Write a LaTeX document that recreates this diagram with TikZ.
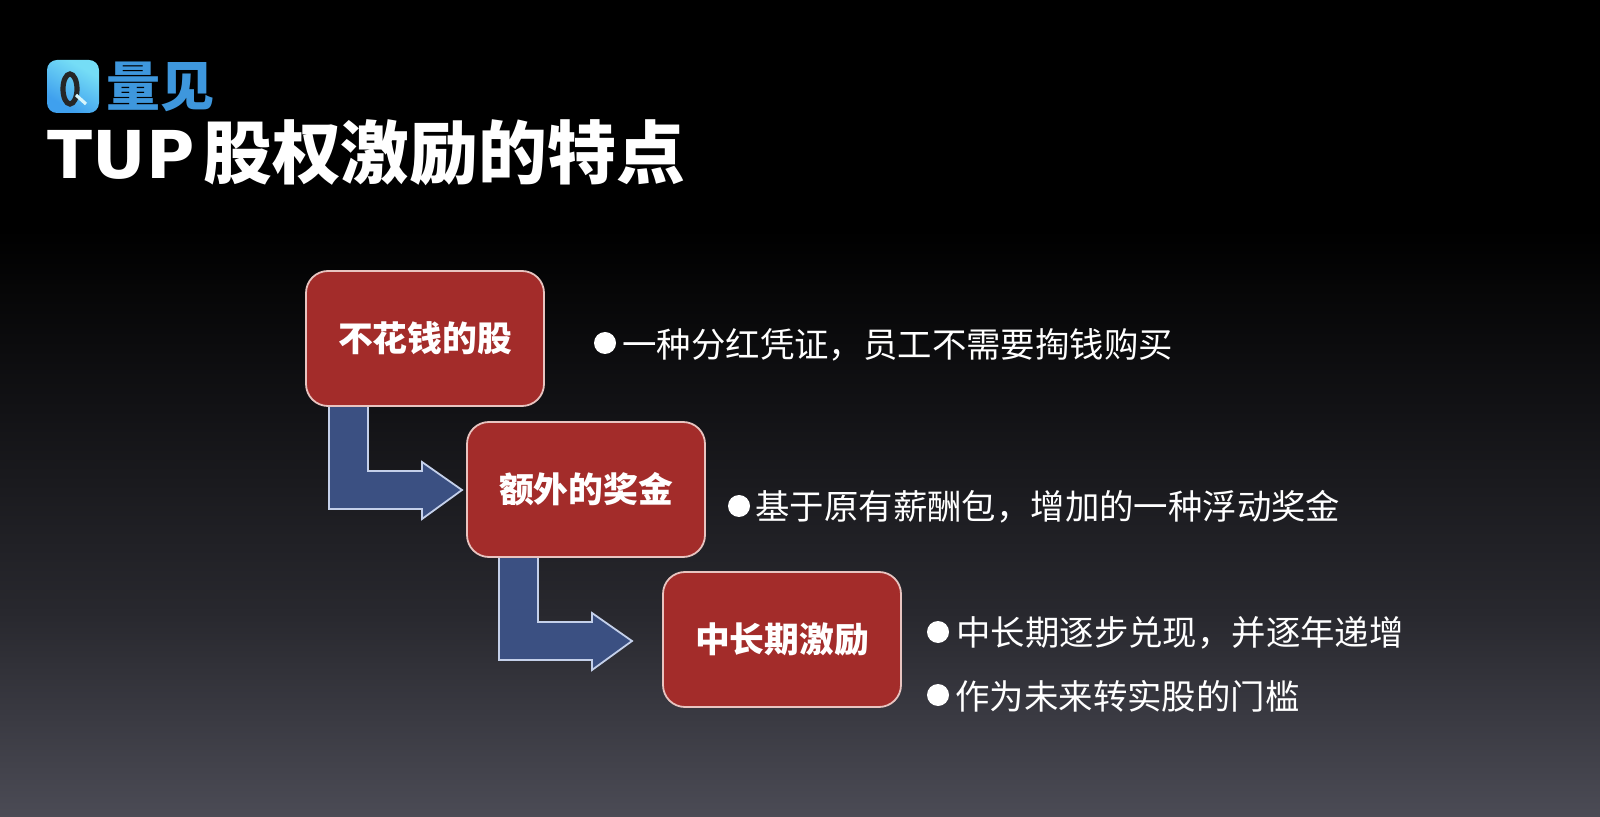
\documentclass[tikz,border=0pt]{standalone}
\usepackage{fontspec}
\setmainfont{Noto Sans CJK SC}
\newfontfamily\latbold{DejaVu Sans}
\definecolor{boxred}{HTML}{A32C2A}
\definecolor{boxedge}{HTML}{E8C4C0}
\definecolor{arrowblue}{HTML}{3B5082}
\definecolor{arrowedge}{HTML}{C4D0EA}
\definecolor{logoblue}{HTML}{3E97DD}
\definecolor{bga}{HTML}{000000}
\definecolor{bgb}{HTML}{121215}
\definecolor{bgc}{HTML}{28282E}
\definecolor{bgd}{HTML}{4B4B55}
\definecolor{la}{HTML}{3FA0EE}
\definecolor{lb}{HTML}{75DDF6}
\pgfdeclareverticalshading{bgshade}{100bp}{color(0bp)=(bgd); color(25bp)=(bgd); color(37.5bp)=(bgc); color(50bp)=(bgb); color(61bp)=(bga); color(100bp)=(bga)}
\pgfdeclareverticalshading{logoshade}{100bp}{color(0bp)=(la); color(30bp)=(la); color(70bp)=(lb); color(100bp)=(lb)}
\tikzset{
  redbox/.style={draw=boxedge,line width=0.9pt,fill=boxred,rounded corners=11pt,minimum width=119pt,minimum height=67.5pt,inner sep=0pt,text=white,font=\fontsize{17.4}{20}\selectfont\bfseries},
  bulletdot/.style={circle,fill=white,inner sep=0pt,minimum size=11pt},
  itemtext/.style={anchor=west,inner sep=0pt,text=white,font=\fontsize{17.2}{20}\selectfont},
  bentarrow/.style={draw=arrowedge,line width=0.9pt,fill=arrowblue,line join=miter},
}
\begin{document}
\begin{tikzpicture}[x=0.5pt,y=-0.5pt]
\useasboundingbox (0,0) rectangle (1600,817);
\shade[shading=bgshade] (0,0) rectangle (1600,817);
% logo
\shade[shading=logoshade,shading angle=-30,rounded corners=5pt] (47,60) rectangle (99,113);
\draw[black!85,line width=2.6pt] (70,89) ellipse (7 and 15);
\draw[white!70!lb,line width=1.6pt] (76,95) -- (86,104);
\node[inner sep=0pt,anchor=west,text=logoblue,font=\fontsize{27}{27}\selectfont\bfseries] (logot) at (106,87) {量见};
% title
\node[inner sep=0pt,anchor=west,text=white] (title) at (47,153) {{\latbold\fontsize{33}{33}\selectfont\bfseries TUP}\hspace{4.5pt}{\fontsize{34.4}{34.4}\selectfont\bfseries 股权激励的特点}};
% arrows
\foreach \dx/\dy/\n in {0/0/a,170/151/b}{
  \begin{scope}[shift={(\dx,\dy)}]
    \draw[bentarrow] (329,405) -- (368,405) -- (368,471) -- (422,471) -- (422,462) -- (462,490) -- (422,519) -- (422,509) -- (329,509) -- cycle;
  \end{scope}
}
% boxes
\node[redbox] (b1) at (425,338.5) {\raisebox{1pt}{不花钱的股}};
\node[redbox] (b2) at (586,489.5) {\raisebox{1pt}{额外的奖金}};
\node[redbox] (b3) at (782,639.5) {\raisebox{1pt}{中长期激励}};
% items
\node[bulletdot] (d1) at (605,343) {};
\node[itemtext] (t1) at (622,345) {一种分红凭证，员工不需要掏钱购买};
\node[bulletdot] (d2) at (739,506) {};
\node[itemtext] (t2) at (755,507) {基于原有薪酬包，增加的一种浮动奖金};
\node[bulletdot] (d3) at (938,632) {};
\node[itemtext] (t3) at (956,633) {中长期逐步兑现，并逐年递增};
\node[bulletdot] (d4) at (938,695) {};
\node[itemtext] (t4) at (955,696) {作为未来转实股的门槛};
\end{tikzpicture}
\end{document}
